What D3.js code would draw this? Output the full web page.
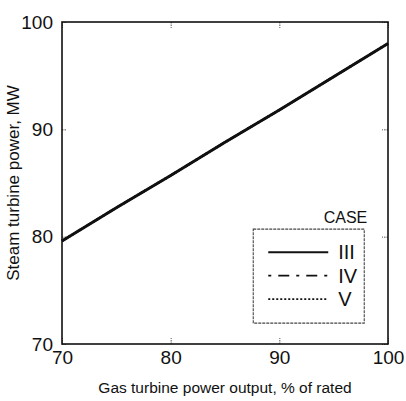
<!DOCTYPE html>
<html>
<head>
<meta charset="utf-8">
<script src="https://cdn.jsdelivr.net/npm/d3@7"></script>
<style>
  body { margin: 0; background: #fff; }
  text { font-family: "Liberation Sans", Arial, sans-serif; fill: #111; }
</style>
</head>
<body>
<div id="chart"></div>
<script>
// gas turbine load, % of rated
const gasLoad = [70, 75, 80, 85, 90, 95, 100];
// steam turbine power, MW, per case (they lie on top of each other)
const caseIII = [79.6, 82.7, 85.7, 88.8, 91.8, 94.9, 98.0];
const caseIV = [79.6, 82.7, 85.7, 88.8, 91.8, 94.9, 98.0];
const caseV = [79.6, 82.7, 85.7, 88.8, 91.8, 94.9, 98.0];
const caseNames = ["III", "IV", "V"];
const xTicks = [70, 80, 90, 100];
const yTicks = [70, 80, 90, 100];

const W = 406, H = 401;
const margin = { top: 22, right: 18, bottom: 57, left: 62 };
const width = W - margin.left - margin.right;
const height = H - margin.top - margin.bottom;

const svg = d3.select("#chart").append("svg")
    .attr("width", W)
    .attr("height", H)
    .append("g")
    .attr("transform", `translate(${margin.left},${margin.top})`);

const x = d3.scaleLinear().domain([70, 100]).range([0, width]);
const y = d3.scaleLinear().domain([70, 100]).range([height, 0]);

// inward ticks on all four sides
const tickStyle = g => g.selectAll(".tick line")
    .attr("stroke", "#555").attr("stroke-dasharray", "1.5,1");

svg.append("g")
    .attr("transform", `translate(0,${height})`)
    .call(d3.axisBottom(x).tickValues(xTicks).tickSizeInner(-6).tickSizeOuter(0).tickPadding(5))
    .call(g => g.select(".domain").remove())
    .call(tickStyle)
    .call(g => g.selectAll("text").attr("font-size", 19).attr("dy", "0.8em"));

svg.append("g")
    .call(d3.axisLeft(y).tickValues(yTicks).tickSizeInner(-5).tickSizeOuter(0).tickPadding(9))
    .call(g => g.select(".domain").remove())
    .call(tickStyle)
    .call(g => g.selectAll("text").attr("font-size", 19));

svg.append("g")
    .call(d3.axisTop(x).tickValues(xTicks).tickSizeInner(-6).tickSizeOuter(0).tickFormat(""))
    .call(g => g.select(".domain").remove())
    .call(tickStyle);

svg.append("g")
    .attr("transform", `translate(${width},0)`)
    .call(d3.axisRight(y).tickValues(yTicks).tickSizeInner(-6).tickSizeOuter(0).tickFormat(""))
    .call(g => g.select(".domain").remove())
    .call(tickStyle);

// frame
svg.append("rect")
    .attr("width", width).attr("height", height)
    .attr("fill", "none").attr("stroke", "#111").attr("stroke-width", 1.6);

// lines
const series = [
    { name: "III", values: caseIII, dash: null, w: 3 },
    { name: "IV", values: caseIV, dash: "8,4,2,4", w: 2.2 },
    { name: "V", values: caseV, dash: "2,2", w: 2.2 }
];
const line = d3.line()
    .x((d, i) => x(gasLoad[i]))
    .y(d => y(d));

svg.selectAll(".case")
    .data(series)
    .enter().append("path")
    .attr("class", "case")
    .attr("d", d => line(d.values))
    .attr("fill", "none")
    .attr("stroke", "#111")
    .attr("stroke-width", d => d.w)
    .attr("stroke-dasharray", d => d.dash);

// legend
const lg = svg.append("g").attr("transform", `translate(${x(87.6)},${y(80.7)})`);
lg.append("rect")
    .attr("width", 111).attr("height", 94)
    .attr("fill", "#fff").attr("stroke", "#444").attr("stroke-width", 1.1)
    .attr("stroke-dasharray", "3,1");
lg.append("text")
    .attr("x", 114).attr("y", -6)
    .attr("text-anchor", "end").attr("font-size", 16)
    .text("CASE");
const items = lg.selectAll(".item")
    .data(series)
    .enter().append("g")
    .attr("transform", (d, i) => `translate(0,${23 + i * 23.5})`);
items.append("line")
    .attr("x1", 15).attr("x2", 75)
    .attr("stroke", "#111")
    .attr("stroke-width", d => d.name === "III" ? 2 : 1.8)
    .attr("stroke-dasharray", d => d.name === "IV" ? "3,7,11,7" : d.dash);
items.append("text")
    .attr("x", 85).attr("dy", "0.36em")
    .attr("font-size", 20)
    .text((d, i) => caseNames[i]);

// axis titles
svg.append("text")
    .attr("x", width / 2).attr("y", height + 49)
    .attr("text-anchor", "middle").attr("font-size", 15.5)
    .text("Gas turbine power output, % of rated");
svg.append("text")
    .attr("transform", `translate(${-43},${height / 2}) rotate(-90)`)
    .attr("text-anchor", "middle").attr("font-size", 17)
    .text("Steam turbine power, MW");
</script>
</body>
</html>
